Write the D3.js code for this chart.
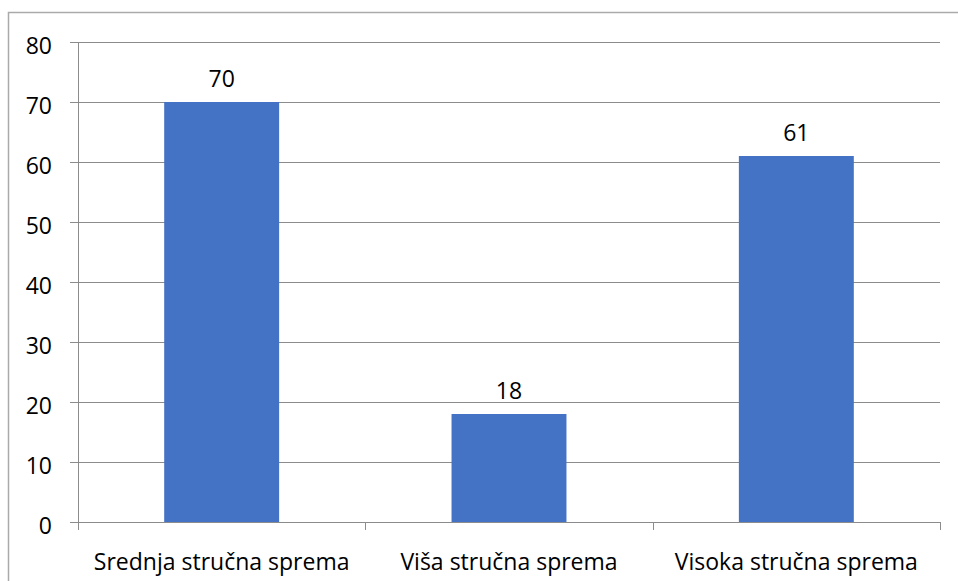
<!DOCTYPE html>
<html lang="hr">
<head>
<meta charset="UTF-8">
<title>Stručna sprema</title>
<script src="https://d3js.org/d3.v7.min.js"></script>
<style>
  body { margin: 0; background: #fff; font-family: "Open Sans", "Liberation Sans", sans-serif; }
</style>
</head>
<body>
<script>
// Data
const categories = ["Srednja stručna sprema", "Viša stručna sprema", "Visoka stručna sprema"];
const values = [70, 18, 61];
const yTicks = [0, 10, 20, 30, 40, 50, 60, 70, 80];

const W = 958, H = 581;
const margin = { top: 42, right: 18, bottom: 59, left: 78 };
const width = W - margin.left - margin.right,
      height = H - margin.top - margin.bottom;
const fontSize = "23px";

const root = d3.select("body").append("svg")
    .attr("width", W)
    .attr("height", H);

// outer chart border (runs off the right and bottom edges)
root.append("rect")
    .attr("x", 8.5).attr("y", 12.5)
    .attr("width", W + 10).attr("height", H + 10)
    .attr("fill", "none")
    .attr("stroke", "#aaaaaa")
    .attr("stroke-width", 1.5);

const svg = root.append("g")
    .attr("transform", `translate(${margin.left},${margin.top})`);

const x = d3.scaleBand()
    .domain(categories)
    .range([0, width])
    .paddingInner(0.6)
    .paddingOuter(0.3);

const y = d3.scaleLinear()
    .domain([0, 80])
    .range([height, 0]);

// gridlines
svg.append("g")
    .selectAll("line")
    .data(yTicks.filter(d => d > 0))
    .join("line")
    .attr("x1", 0).attr("x2", width)
    .attr("y1", d => Math.round(y(d)) + 0.5)
    .attr("y2", d => Math.round(y(d)) + 0.5)
    .attr("stroke", "#8c8c8c")
    .attr("stroke-width", 1);

// bars
svg.selectAll(".bar")
    .data(values)
    .join("rect")
    .attr("class", "bar")
    .attr("x", (d, i) => x(categories[i]))
    .attr("y", d => y(d))
    .attr("width", x.bandwidth())
    .attr("height", d => height - y(d))
    .attr("fill", "#4472c4");

// value labels
svg.selectAll(".val")
    .data(values)
    .join("text")
    .attr("class", "val")
    .attr("x", (d, i) => x(categories[i]) + x.bandwidth() / 2)
    .attr("y", d => y(d) - 15)
    .attr("text-anchor", "middle")
    .style("font-size", fontSize)
    .attr("fill", "#000")
    .text(d => d);

// y axis
const yAxis = svg.append("g")
    .call(d3.axisLeft(y).tickValues(yTicks).tickSize(8).tickPadding(18));
yAxis.select(".domain").attr("stroke", "#8c8c8c").attr("d", `M0.5,${height}V0`);
yAxis.selectAll(".tick line").attr("stroke", "#8c8c8c");
yAxis.selectAll("text")
    .attr("dy", "0.52em")
    .style("font-size", fontSize)
    .attr("fill", "#000")
    .style("font-family", "'Open Sans', 'Liberation Sans', sans-serif");

// x axis with tick marks between categories
const step = width / categories.length;
const xAxisG = svg.append("g").attr("transform", `translate(0,${height})`);
xAxisG.append("line")
    .attr("x1", -8).attr("x2", width)
    .attr("y1", 0.5).attr("y2", 0.5)
    .attr("stroke", "#8c8c8c");
xAxisG.selectAll(".xtick")
    .data(d3.range(categories.length + 1))
    .join("line")
    .attr("class", "xtick")
    .attr("x1", i => Math.round(i * step) + 0.5)
    .attr("x2", i => Math.round(i * step) + 0.5)
    .attr("y1", 0).attr("y2", 8)
    .attr("stroke", "#8c8c8c");
xAxisG.selectAll(".xlab")
    .data(categories)
    .join("text")
    .attr("class", "xlab")
    .attr("x", d => x(d) + x.bandwidth() / 2)
    .attr("y", 48)
    .attr("text-anchor", "middle")
    .style("font-size", fontSize)
    .attr("fill", "#000")
    .text(d => d);
</script>
</body>
</html>
